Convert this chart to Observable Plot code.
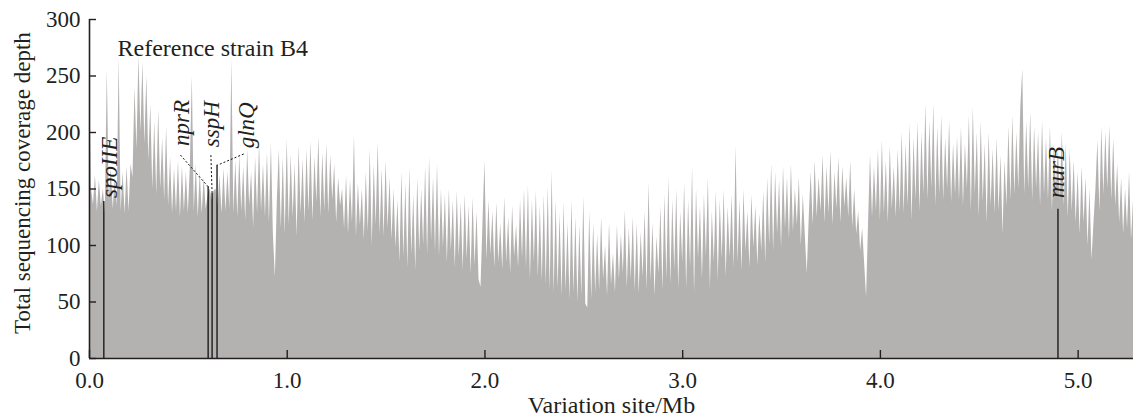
<!DOCTYPE html>
<html>
<head>
<meta charset="utf-8">
<script src="https://cdn.jsdelivr.net/npm/d3@7"></script>
<script src="https://cdn.jsdelivr.net/npm/@observablehq/plot@0.6"></script>
<style>
  html, body { margin: 0; padding: 0; background: #fff; }
  #chart { width: 1133px; height: 420px; }
</style>
</head>
<body>
<div id="chart"></div>
<script>
const stepMb = 0.01;
const depth = [
  262,150,136,162,130,158,135,150,128,256,
  140,168,132,160,135,266,130,165,128,170,
  130,172,160,240,185,268,200,262,190,250,
  175,225,150,210,145,220,150,195,140,205,
  135,178,128,168,130,175,125,170,130,165,
  128,170,250,130,172,125,165,128,160,132,
  145,150,140,148,150,135,162,128,168,130,
  165,132,265,128,175,125,180,130,170,122,
  185,135,165,116,178,128,190,130,172,125,
  182,120,190,110,72,140,185,115,178,110,
  194,118,180,125,172,108,188,128,176,120,
  185,130,192,122,178,138,196,125,182,130,
  190,128,180,140,172,120,160,135,150,115,
  162,110,158,120,197,108,155,118,150,105,
  165,112,185,100,172,118,191,110,168,108,
  175,115,160,105,150,98,140,85,165,90,
  155,80,169,92,145,78,160,95,150,100,
  170,92,178,104,160,95,172,90,150,98,
  145,85,150,95,140,80,148,90,138,78,
  145,88,135,75,142,82,130,70,63,120,
  175,87,140,92,130,80,138,85,120,78,
  143,85,125,75,135,90,118,80,140,88,
  150,80,153,70,140,85,148,72,135,68,
  145,65,152,60,166,58,140,62,128,55,
  138,60,120,52,140,58,125,50,118,55,
  143,48,45,130,52,120,58,110,60,125,
  70,100,55,120,65,93,58,118,70,110,
  75,131,62,116,70,125,60,120,57,112,
  72,130,60,155,68,120,55,108,75,135,
  60,145,70,160,65,140,78,150,62,130,
  85,155,62,140,80,169,58,150,88,135,
  70,145,90,160,62,130,85,148,70,140,
  88,149,72,134,90,145,80,188,85,140,
  78,149,95,130,80,145,98,135,82,128,
  95,148,85,160,100,172,95,165,110,158,
  98,170,115,160,105,172,112,150,118,160,
  100,145,110,75,125,165,118,175,125,160,
  130,180,120,170,128,184,118,165,132,178,
  120,170,134,160,125,175,116,150,110,130,
  95,115,85,54,120,180,125,170,130,185,
  122,193,128,175,120,188,132,170,125,185,
  130,200,128,190,135,208,122,195,140,209,
  130,200,145,225,140,210,150,225,135,205,
  145,215,140,195,150,210,138,190,145,196,
  140,205,135,190,150,215,130,222,145,200,
  125,210,138,190,120,200,135,185,128,195,
  130,180,110,175,135,205,140,215,145,200,
  150,222,256,145,210,150,218,140,205,150,
  200,135,210,145,195,140,205,130,190,150,
  185,140,200,135,190,125,185,130,175,120,
  165,110,170,120,160,100,150,87,120,150,
  193,130,205,145,200,150,206,140,195,135,
  172,120,160,110,150,115,165,105,140
];

// Annotated genes: locus (Mb) and depth at the locus
const geneNames = ["spoIIE", "nprR", "sspH", "glnQ", "murB"];
const genePos   = [0.0725, 0.600, 0.620, 0.645, 4.898];
const geneDepth = [139, 152, 146, 171, 132];
// Where each label starts (Mb, depth)
const labelPos   = [0.103, 0.465, 0.617, 0.797, 4.893];
const labelDepth = [142, 188, 187, 186, 142];
// Dashed leader lines from label to locus (for crowded labels)
const leaderFrom = [[0.460, 180], [0.614, 180], [0.780, 181]];
const leaderTo   = [[0.600, 152], [0.620, 146], [0.646, 171]];

const xTicks = [0, 1, 2, 3, 4, 5];
const yTicks = [0, 50, 100, 150, 200, 250, 300];
const xDomain = [0, 5.28];
const yDomain = [0, 300];

const coverage = depth.map((d, i) => ({pos: i * stepMb, depth: d}));
const genes = geneNames.map((name, i) => ({
  name, pos: genePos[i], depth: geneDepth[i], lx: labelPos[i], ly: labelDepth[i]
}));
const leaders = leaderFrom.map((f, i) => ({x1: f[0], y1: f[1], x2: leaderTo[i][0], y2: leaderTo[i][1]}));

const font = "'Liberation Serif', 'Times New Roman', Times, serif";

const chart = Plot.plot({
  width: 1133,
  height: 420,
  marginLeft: 89,
  marginRight: 0,
  marginTop: 19,
  marginBottom: 62,
  x: {domain: xDomain},
  y: {domain: yDomain},
  style: {fontFamily: font, fontSize: "23px", color: "#231f20", background: "#fff", overflow: "visible"},
  marks: [
    Plot.areaY(coverage, {x: "pos", y: "depth", fill: "#b4b1b1", curve: "linear"}),
    Plot.ruleX(genes, {x: "pos", y1: 0, y2: "depth", stroke: "#111", strokeWidth: 1.3}),
    Plot.link(leaders, {x1: "x1", y1: "y1", x2: "x2", y2: "y2", stroke: "#111", strokeWidth: 1, strokeDasharray: "2,2"}),
    Plot.text(genes, {x: "lx", y: "ly", text: "name", rotate: -90, textAnchor: "start",
      fontStyle: "italic", fontSize: 23, fill: "#231f20"}),
    Plot.ruleY([0], {stroke: "#231f20", strokeWidth: 1.6}),
    Plot.ruleX([0], {stroke: "#231f20", strokeWidth: 1.6}),
    Plot.axisX({ticks: xTicks, tickSize: -8, tickPadding: 21, tickFormat: d3.format(".1f"),
      label: null, stroke: "#231f20", strokeWidth: 1.4}),
    Plot.axisY({ticks: yTicks, tickSize: -7, tickPadding: 16, label: null, stroke: "#231f20", strokeWidth: 1.4}),
    Plot.text(["Reference strain B4"], {frameAnchor: "top-left", dx: 28, dy: 19, textAnchor: "start",
      fontSize: 24, fill: "#231f20"}),
    Plot.text(["Variation site/Mb"], {frameAnchor: "bottom", dy: 54, textAnchor: "middle", fontSize: 24, fill: "#231f20"}),
    Plot.text(["Total sequencing coverage depth"], {frameAnchor: "left", dx: -67, dy: -6, rotate: -90,
      textAnchor: "middle", fontSize: 23, fill: "#231f20"})
  ]
});

document.getElementById("chart").appendChild(chart);
</script>
</body>
</html>
